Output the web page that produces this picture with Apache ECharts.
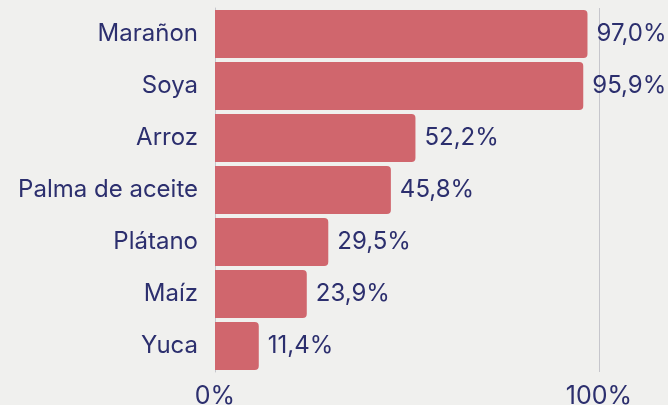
<!DOCTYPE html>
<html><head><meta charset="utf-8">
<script src="https://cdn.jsdelivr.net/npm/echarts@6/dist/echarts.min.js"></script>
<style>html,body{margin:0;padding:0;background:#f0f0ee;}#c{width:668px;height:405px;}</style>
</head><body><div id="c"></div>
<script>
const categories = ["Marañon","Soya","Arroz","Palma de aceite","Plátano","Maíz","Yuca"];
const values = [97.0,95.9,52.2,45.8,29.5,23.9,11.4];
const xTicks = [0,100];
const navy = '#2c2f6e';
const font = 'Inter';
const chart = echarts.init(document.getElementById('c'));
chart.setOption({
  backgroundColor:'#f0f0ee',
  animation:false,
  grid:{left:215,right:69,top:8,bottom:33,containLabel:false,outerBoundsMode:'none'},
  xAxis:{type:'value',min:xTicks[0],max:xTicks[1],interval:100,
    axisLine:{show:false},axisTick:{show:false},
    splitLine:{show:true,lineStyle:{color:'#c6c6cc',width:1}},
    axisLabel:{margin:12,color:navy,fontFamily:font,fontSize:25,formatter:v=>v+'%'}},
  yAxis:{type:'category',data:categories,inverse:true,
    axisLine:{show:true,lineStyle:{color:'#c6c6cc',width:1}},axisTick:{show:false},
    axisLabel:{margin:17,color:navy,fontFamily:font,fontSize:24}},
  series:[{type:'bar',data:values,barCategoryGap:'8%',
    itemStyle:{color:'#d0666d',borderRadius:[0,4,4,0]},
    label:{show:true,position:'right',distance:9,color:navy,fontFamily:font,fontSize:24,
      formatter:p=>p.value.toFixed(1).replace('.',',')+'%'}}]
});
</script></body></html>
